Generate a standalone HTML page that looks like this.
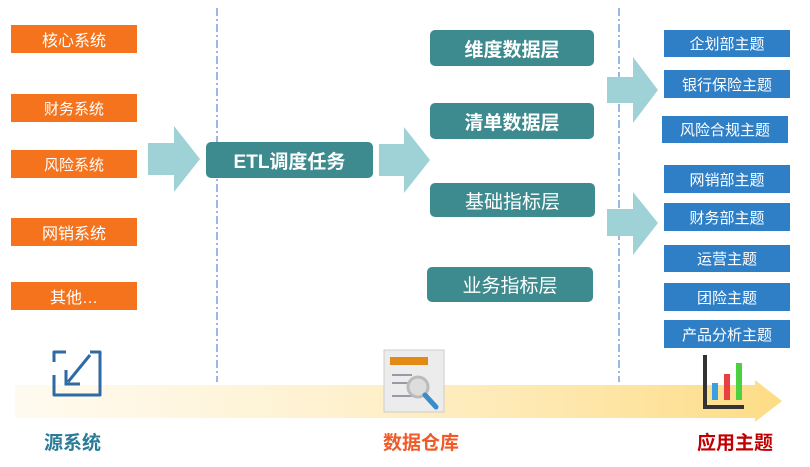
<!DOCTYPE html>
<html><head><meta charset="utf-8"><style>
body{margin:0;width:810px;height:467px;background:#fff;position:relative;overflow:hidden;font-family:"Liberation Sans","Noto Sans CJK SC",sans-serif}
.b{position:absolute;display:flex;align-items:center;justify-content:center;color:#fff;white-space:nowrap}
.o{background:#f5731c;left:11px;width:126px;height:28px;font-size:16px}
.t{background:#3e8b8f;border-radius:5px;font-size:19px;font-weight:bold}
.u{background:#2f7fc7;font-size:15px;height:27px}
.l{position:absolute;font-size:19px;font-weight:bold}
</style></head><body>
<svg width="810" height="467" style="position:absolute;left:0;top:0">
<defs><linearGradient id="g" x1="0" x2="1"><stop offset="0" stop-color="#fff6e0" stop-opacity=".5"/><stop offset="1" stop-color="#fddc85"/></linearGradient></defs>
<line x1="217" y1="8" x2="217" y2="382" stroke="#3a6fc7" stroke-dasharray="8,3,2,3"/>
<line x1="619" y1="8" x2="619" y2="382" stroke="#3a6fc7" stroke-dasharray="8,3,2,3"/>
<polygon points="15,385 755,385 755,380 782,401 755,422 755,418 15,418" fill="url(#g)"/>
<g fill="#9fd2d6">
<polygon points="148,143 174,143 174,126 200,159 174,192 174,175 148,175"/>
<polygon points="379,144 404,144 404,127 430,160 404,193 404,176 379,176"/>
<polygon points="607,77 633,77 633,57 658,90 633,123 633,103 607,103"/>
<polygon points="607,209 633,209 633,192 658,223 633,255 633,236 607,236"/>
</g>
<path d="M54 362 V352 H66 M90 352 H100 V395 H54 V375" fill="none" stroke="#2d6aa6" stroke-width="3" stroke-linejoin="round"/>
<path d="M90 355 L68 382 M66 370 V384 H80" fill="none" stroke="#2d6aa6" stroke-width="3"/>
<rect x="384" y="350" width="60" height="62" fill="#ececec" stroke="#ccc"/>
<rect x="390" y="357" width="38" height="8" fill="#e38a15"/>
<g stroke="#99a" stroke-width="2"><line x1="392" y1="375" x2="412" y2="375"/><line x1="392" y1="383" x2="420" y2="383"/><line x1="392" y1="396" x2="425" y2="396"/></g>
<circle cx="418" cy="387" r="10" fill="#ddd" stroke="#bbb" stroke-width="3"/>
<line x1="425" y1="395" x2="436" y2="407" stroke="#3a8dc8" stroke-width="5" stroke-linecap="round"/>
<path d="M705 355 V407 H744" fill="none" stroke="#333" stroke-width="4"/>
<rect x="712" y="383" width="6" height="17" fill="#3aa0e0"/><rect x="724" y="374" width="6" height="26" fill="#e84040"/><rect x="736" y="363" width="6" height="37" fill="#4cd040"/>
</svg>
<div class="b o" style="top:25px">核心系统</div>
<div class="b o" style="top:94px;font-size:15px">财务系统</div>
<div class="b o" style="top:150px;font-size:15px">风险系统</div>
<div class="b o" style="top:218px">网销系统</div>
<div class="b o" style="top:282px">其他…</div>
<div class="b t" style="left:206px;top:142px;width:167px;height:36px">ETL调度任务</div>
<div class="b t" style="left:430px;top:30px;width:164px;height:36px">维度数据层</div>
<div class="b t" style="left:430px;top:103px;width:164px;height:36px">清单数据层</div>
<div class="b t" style="left:430px;top:183px;width:165px;height:34px;font-weight:normal">基础指标层</div>
<div class="b t" style="left:427px;top:267px;width:166px;height:35px;font-weight:normal">业务指标层</div>
<div class="b u" style="left:664px;top:30px;width:126px">企划部主题</div>
<div class="b u" style="left:664px;top:70px;width:126px;height:28px">银行保险主题</div>
<div class="b u" style="left:662px;top:116px;width:126px">风险合规主题</div>
<div class="b u" style="left:664px;top:165px;width:126px;height:28px">网销部主题</div>
<div class="b u" style="left:664px;top:203px;width:126px;height:28px">财务部主题</div>
<div class="b u" style="left:664px;top:245px;width:126px">运营主题</div>
<div class="b u" style="left:664px;top:283px;width:126px;height:28px">团险主题</div>
<div class="b u" style="left:664px;top:320px;width:126px;height:28px">产品分析主题</div>
<div class="l" style="left:44px;top:428px;color:#2a7c98">源系统</div>
<div class="l" style="left:383px;top:428px;color:#f05a28">数据仓库</div>
<div class="l" style="left:697px;top:428px;color:#c00000">应用主题</div>
</body></html>
